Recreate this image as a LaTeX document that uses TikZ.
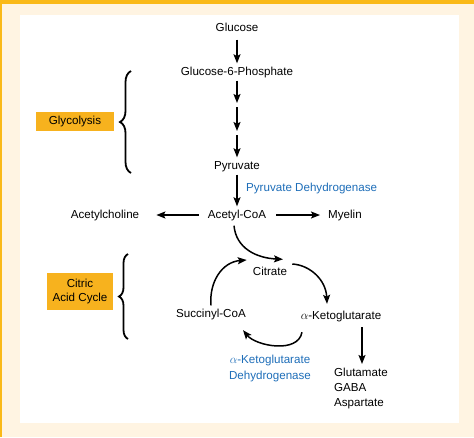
\documentclass[tikz,border=0pt]{standalone}
\usepackage{fontspec}
\setmainfont{Liberation Sans}
\usetikzlibrary{arrows.meta,decorations.pathreplacing}
\definecolor{frameorange}{RGB}{250,185,24}
\definecolor{boxorange}{RGB}{247,178,30}
\definecolor{cream}{RGB}{255,244,226}
\definecolor{enzblue}{RGB}{30,110,185}
\tikzset{
  lbl/.style={inner sep=3pt, text height=8.5pt, text depth=2.5pt},
  arr/.style={line width=1.5pt, -{Stealth[length=9pt,width=7pt,inset=1.8pt]}},
  tagbox/.style={fill=boxorange, inner sep=0pt, align=center},
  brc/.style={line width=1.8pt, decorate, decoration={brace, amplitude=#1}},
}
\begin{document}
\begin{tikzpicture}[x=1pt,y=-1pt,font=\fontsize{11.6}{13.5}\selectfont]
\fill[cream] (0,0) rectangle (474,437);
\fill[frameorange] (0,0) rectangle (474,4);
\fill[frameorange] (0,0) rectangle (2,437);
\fill[white] (20,15) rectangle (459,423);
\useasboundingbox (0,0) rectangle (474,437);

% main chain
\node[lbl] (glc) at (237,28) {Glucose};
\node[lbl] (g6p) at (237,72) {Glucose-6-Phosphate};
\coordinate (c1) at (237,105);
\coordinate (c2) at (237,133);
\node[lbl] (pyr) at (237,166) {Pyruvate};
\node[lbl, text=enzblue, anchor=west] (pdh) at (243,188) {Pyruvate Dehydrogenase};
\node[lbl] (acoa) at (237,215) {Acetyl-CoA};
\node[lbl] (ach) at (105,215) {Acetylcholine};
\node[lbl] (mye) at (345,215) {Myelin};

% cycle
\node[lbl] (cit) at (270,272) {Citrate};
\node[lbl] (suc) at (211,314) {Succinyl-CoA};
\node[lbl] (akg) at (341,316) {$\alpha$-Ketoglutarate};
\node[text=enzblue, align=center, inner sep=0pt, font=\fontsize{11.6}{16}\selectfont] (akgdh) at (270,368) {$\alpha$-Ketoglutarate\\Dehydrogenase};
\node[align=left, anchor=north west, inner sep=0pt, font=\fontsize{11.6}{15}\selectfont] (prod) at (334,368) {Glutamate\\GABA\\Aspartate};

% side labels
\node[tagbox, minimum width=78pt, minimum height=19pt] (gly) at (75,121.5) {Glycolysis};
\node[tagbox, minimum width=66pt, minimum height=37pt, font=\fontsize{11.6}{14}\selectfont] (tca) at (80,291.5) {Citric\\Acid Cycle};
\draw[brc=11pt] (131,173) -- (131,71);
\draw[brc=9pt] (128,339) -- (128,254);

% arrows
\draw[arr, shorten <=3pt] (glc) -- (g6p);
\draw[arr, shorten >=2pt] (g6p) -- (c1);
\draw[arr, shorten <=2pt, shorten >=2pt] (c1) -- (c2);
\draw[arr, shorten <=2pt] (c2) -- (pyr);
\draw[arr] (pyr) -- (acoa);
\draw[arr, shorten <=6pt, shorten >=14pt] (acoa) -- (ach);
\draw[arr, shorten <=7pt, shorten >=5pt] (acoa) -- (mye);

\draw[arr] ([xshift=-3pt,yshift=-2pt]acoa.south) .. controls (236,248) and (256,258) .. ([shift={(13pt,4pt)}]cit.north);
\draw[arr] (suc.north) .. controls (209,282) and (222,262) .. ([shift={(-3pt,12pt)}]cit.west);
\draw[arr] ([shift={(2pt,8pt)}]cit.east) .. controls (310,265) and (326,280) .. ([shift={(-14pt,3.5pt)}]akg.north);
\draw[arr] ([shift={(-39pt,-7.5pt)}]akg.south) .. controls (298,354) and (256,346) .. ([shift={(32pt,-7.5pt)}]suc.south);
\draw[arr] ([shift={(21pt,-2.5pt)}]akg.south) -- ([shift={(28pt,4pt)}]prod.north west);
\end{tikzpicture}
\end{document}
